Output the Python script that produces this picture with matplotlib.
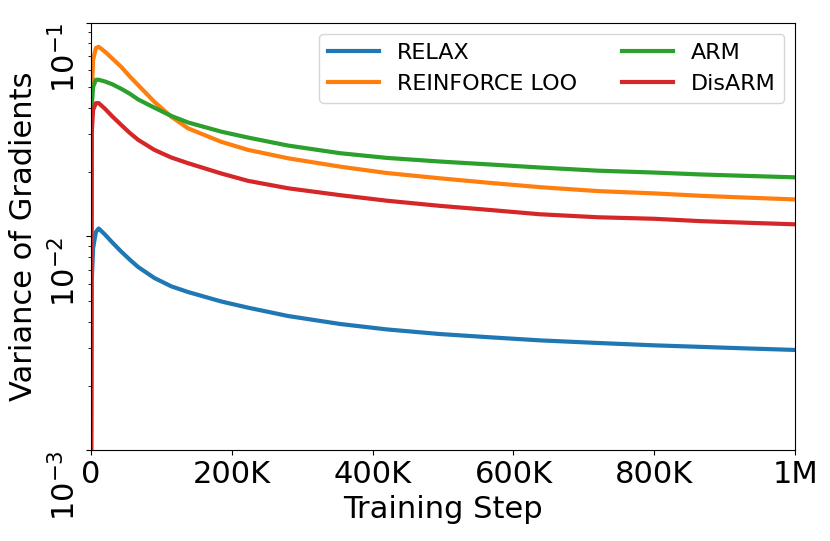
import matplotlib
matplotlib.use('Agg')
import matplotlib.pyplot as plt
import numpy as np

steps_k = [0, 1, 3, 7, 11, 20, 30, 43, 55, 67, 90, 114, 138, 185, 223,
           280, 354, 420, 496, 567, 638, 720, 800, 865, 930, 1000]

relax = [0.0005, 0.006, 0.0088, 0.0105, 0.0109, 0.0102, 0.0094, 0.0085, 0.0078,
         0.0072, 0.0064, 0.00585, 0.0055, 0.00497, 0.00465, 0.00425, 0.0039,
         0.00368, 0.0035, 0.00338, 0.00327, 0.00318, 0.0031, 0.00305, 0.0030, 0.00295]
reinforce_loo = [0.0005, 0.045, 0.067, 0.076, 0.077, 0.073, 0.068, 0.062, 0.056,
                 0.051, 0.0426, 0.0363, 0.032, 0.0277, 0.0254, 0.0232, 0.0212,
                 0.0198, 0.0187, 0.0178, 0.0170, 0.0163, 0.0159, 0.0155, 0.0152, 0.0149]
arm = [0.0005, 0.040, 0.050, 0.054, 0.054, 0.053, 0.0515, 0.049, 0.0465,
       0.0437, 0.040, 0.0366, 0.0341, 0.0309, 0.029, 0.0266, 0.0245,
       0.0233, 0.0224, 0.0217, 0.0210, 0.0203, 0.0199, 0.0195, 0.0192, 0.0189]
disarm = [0.0005, 0.030, 0.039, 0.042, 0.042, 0.0395, 0.0365, 0.0332, 0.0305,
          0.0283, 0.0254, 0.0234, 0.022, 0.0197, 0.0182, 0.0168, 0.0156,
          0.0147, 0.0139, 0.0133, 0.0127, 0.0123, 0.0121, 0.0118, 0.0116, 0.0114]

labels = ['RELAX', 'REINFORCE LOO', 'ARM', 'DisARM']
series = [relax, reinforce_loo, arm, disarm]
colors = ['#1f77b4', '#ff7f0e', '#2ca02c', '#d62728']

xticks = [0, 200000, 400000, 600000, 800000, 1000000]
xticklabels = ['0', '200K', '400K', '600K', '800K', '1M']

fig = plt.figure(figsize=(8.3, 5.41), dpi=100)
ax = fig.add_axes([0.1096, 0.1673, 0.8484, 0.7911])

x = np.array(steps_k) * 1000
for y, lab, c in zip(series, labels, colors):
    ax.plot(x, y, color=c, linewidth=3, label=lab)

ax.set_yscale('log')
ax.set_ylim(1e-3, 1e-1)
ax.set_xlim(0, 1000000)
ax.set_xticks(xticks)
ax.set_xticklabels(xticklabels, fontsize=22)
ax.set_yticks([1e-3, 1e-2, 1e-1])
ax.set_yticklabels([r'$10^{-3}$', r'$10^{-2}$', r'$10^{-1}$'], fontsize=22,
                   rotation=90, va='top')

ax.set_xlabel('Training Step', fontsize=22)
ax.set_ylabel('Variance of Gradients', fontsize=22)
ax.xaxis.set_label_coords(0.5, -0.105)
ax.yaxis.set_label_coords(-0.075, 0.5)

ax.legend(loc='upper right', ncol=2, fontsize=16, handlelength=2.3)

fig.savefig('out.png', dpi=100)
